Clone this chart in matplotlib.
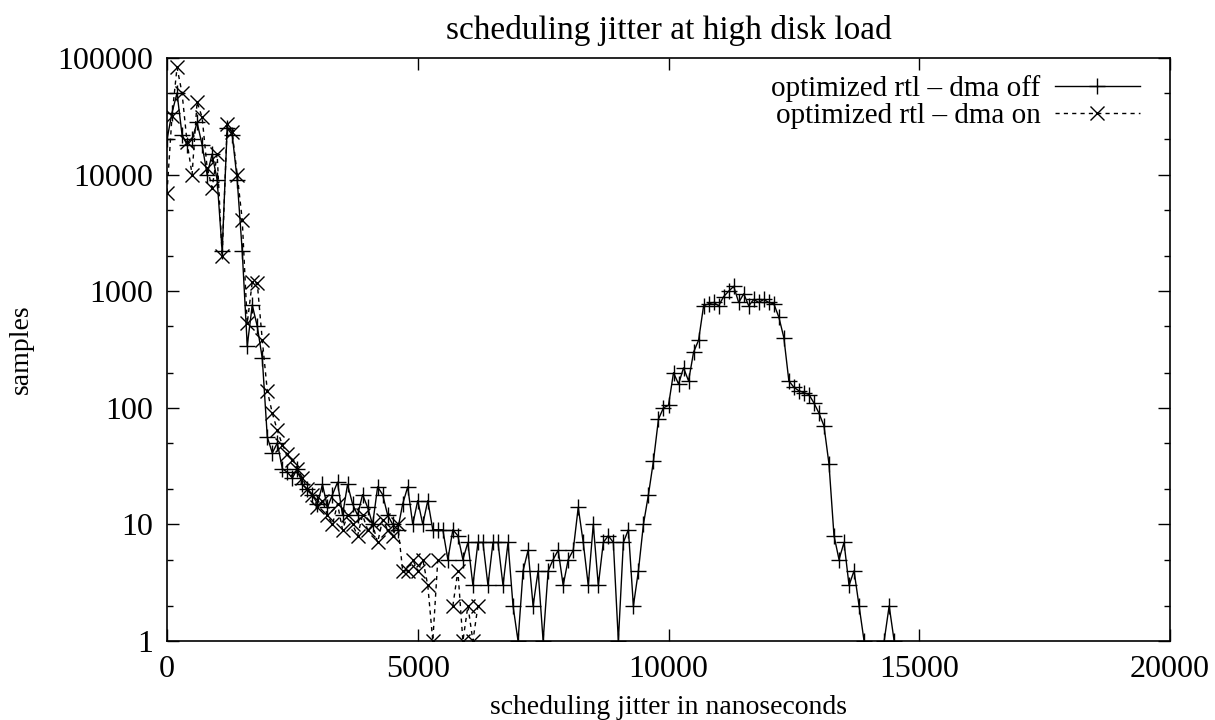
import numpy as np
import matplotlib
matplotlib.use("Agg")
import matplotlib.pyplot as plt
from matplotlib.ticker import LogLocator, NullFormatter, NullLocator

# histogram bins, 100 ns wide
bin_ns = 100

# optimized rtl - dma off (nan = empty bin)
dma_off = [
    20000, 34000, 50000, 22000, 18000, 20000, 28000, 18000, 10000, 15000,
    9000, 2200, 25000, 22000, 9000, 2200, 340, 760, 500, 265,
    56, 41, 50, 30, 28, 25, 30, 22, 20, 18,
    15, 22, 14, 18, 23, 12, 22, 15, 12, 18,
    14, 10, 21, 18, 12, 10, 9, 15, 21, 10,
    16, 10, 16, 9, 9, 9, 5, 9, 8, 5,
    7, 3, 7, 7, 3, 7, 7, 3, 7, 2,
    1, 4, 6, 2, 4, 1, 4, 5, 6, 3,
    5, 6, 14, 7, 3, 10, 3, 7, 8, 7,
    1, 7, 9, 2, 4, 10, 18, 35, 80, 100,
    105, 200, 160, 220, 170, 300, 380, 750, 780, 800,
    750, 900, 1000, 1100, 800, 950, 750, 850, 800, 850,
    800, 780, 600, 400, 170, 150, 140, 135, 130, 110,
    90, 70, 33, 8, 5, 7, 3, 4, 2, 1,
    np.nan, np.nan, np.nan, 1, 2, 1,
]

# optimized rtl - dma on
dma_on = [
    7000, 32000, 83000, 50000, 19000, 10000, 42000, 31000, 11500, 7700,
    15000, 2000, 27000, 23000, 10000, 4100, 530, 1200, 1170, 380,
    140, 90, 64, 48, 40, 36, 30, 25, 20, 18,
    14, 16, 12, 10, 15, 9, 12, 10, 8, 12,
    9, 10, 7, 11, 9, 8, 10, 4, 4, 5,
    4, 5, 3, 1, 5, np.nan, np.nan, 2, 4, 1,
    2, 1, 2,
]

x_off = np.arange(len(dma_off)) * bin_ns
x_on = np.arange(len(dma_on)) * bin_ns

x_ticks = [0, 5000, 10000, 15000, 20000]
y_ticks = [1, 10, 100, 1000, 10000, 100000]

plt.rcParams["font.family"] = ["Liberation Serif", "DejaVu Serif"]
plt.rcParams["font.size"] = 20

fig = plt.figure(figsize=(12.15, 7.2), dpi=100)
ax = fig.add_axes([167 / 1215, 1 - 641 / 720, (1170 - 167) / 1215, (641 - 58) / 720])

ax.plot(x_off, dma_off, color="black", linewidth=1.0,
        marker="+", markersize=11, markeredgewidth=1.0,
        label="optimized rtl \u2013 dma off")
ax.plot(x_on, dma_on, color="black", linewidth=1.0, linestyle=(0, (3, 3)),
        marker="x", markersize=10, markeredgewidth=1.0,
        label="optimized rtl \u2013 dma on")

ax.set_yscale("log")
ax.set_xlim(0, 20000)
ax.set_ylim(1, 100000)

ax.set_xticks(x_ticks)
ax.set_xticklabels([str(v) for v in x_ticks])
ax.set_yticks(y_ticks)
ax.set_yticklabels([str(v) for v in y_ticks])
ax.yaxis.set_minor_locator(LogLocator(base=10, subs=[2, 5]))
ax.yaxis.set_minor_formatter(NullFormatter())
ax.xaxis.set_minor_locator(NullLocator())

ax.tick_params(which="major", direction="in", top=True, right=True,
               length=8.5, width=1.0, pad=10, labelsize=23)
ax.tick_params(which="minor", direction="in", top=True, right=True,
               length=4.5, width=1.0)
for spine in ax.spines.values():
    spine.set_linewidth(1.2)

ax.set_title("scheduling jitter at high disk load", pad=14)
ax.set_xlabel("scheduling jitter in nanoseconds")
ax.set_ylabel("samples")
ax.xaxis.set_label_coords(0.5, -0.092)
ax.yaxis.set_label_coords(-0.133, 0.5)

ax.legend(loc="upper right", bbox_to_anchor=(0.99, 1.005), frameon=False,
          markerfirst=False, handlelength=2.9, handletextpad=0.5,
          labelspacing=0.0, borderpad=0.2, fontsize=21)

fig.savefig("out.png", dpi=100)
